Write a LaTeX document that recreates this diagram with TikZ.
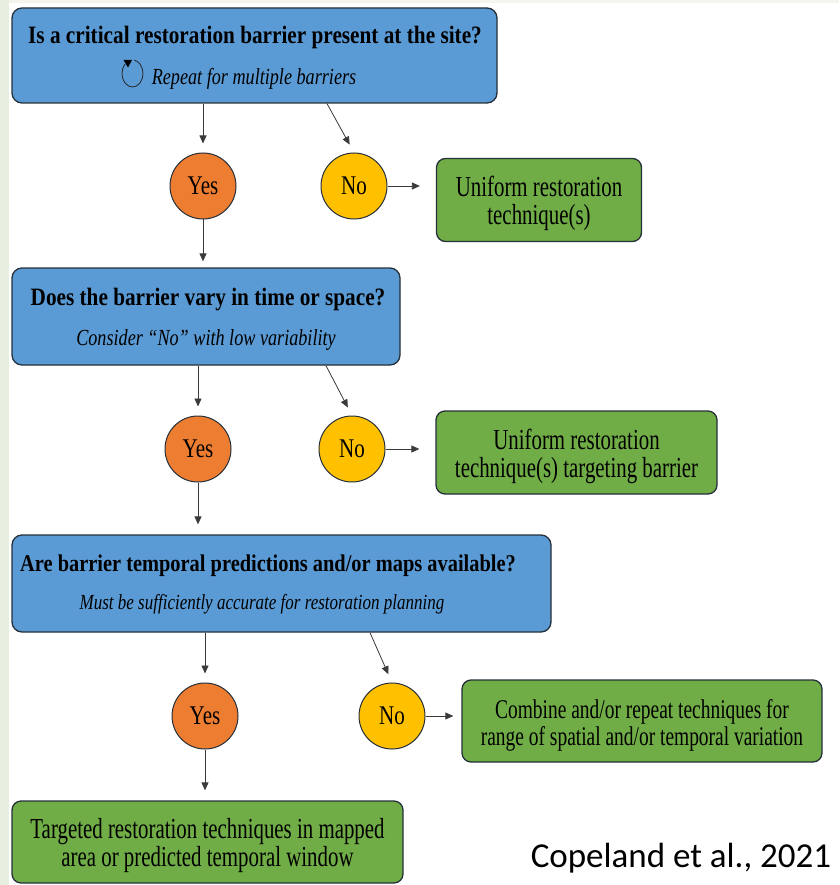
\documentclass[tikz,border=0pt]{standalone}
\usepackage{fontspec}
\setmainfont{Liberation Serif}
\newfontfamily\titlefont[FakeStretch=0.85]{Liberation Serif}
\newfontfamily\subfont[FakeStretch=0.79]{Liberation Serif}
\newfontfamily\greenfont[FakeStretch=0.72]{Liberation Serif}
\newfontfamily\circfont[FakeStretch=0.78]{Liberation Serif}
\newfontfamily\calfont{Carlito}
\usetikzlibrary{arrows.meta}
\definecolor{qblue}{HTML}{5B9BD5}
\definecolor{yorange}{HTML}{ED7D31}
\definecolor{nyellow}{HTML}{FFC000}
\definecolor{rgreen}{HTML}{70AD47}
\definecolor{edgec}{HTML}{26303A}
\definecolor{linec}{HTML}{3A3A3A}
\definecolor{stripc}{HTML}{E6EFE0}
\definecolor{topc}{HTML}{F5F5EE}
\newcommand{\gstrut}{\rule{0pt}{28pt}}
\tikzset{
  qbox/.style={draw=edgec, line width=1.3pt, fill=qblue, rounded corners=10pt, inner sep=0pt},
  rbox/.style={draw=edgec, line width=1.3pt, fill=rgreen, rounded corners=9pt, inner sep=0pt, align=center,
    font=\greenfont\fontsize{29}{28}\selectfont},
  qtitle/.style={anchor=base, inner sep=0pt, font=\titlefont\fontsize{25}{28}\selectfont\bfseries},
  qsub/.style={anchor=base, inner sep=0pt, font=\subfont\fontsize{23}{26}\selectfont\itshape},
  yesc/.style={circle, draw=edgec, line width=1pt, fill=yorange, minimum size=66pt, inner sep=0pt,
    font=\circfont\fontsize{27}{30}\selectfont},
  noc/.style={yesc, fill=nyellow},
  arr/.style={draw=linec, line width=0.8pt, -{Triangle[width=7pt,length=8pt]}},
}
\begin{document}
\begin{tikzpicture}[x=1pt,y=-1pt]
\useasboundingbox (0,0) rectangle (839,885);
\fill[white] (0,0) rectangle (839,885);
\fill[topc] (0,0) rectangle (839,3);
\fill[stripc] (0,0) rectangle (9,885);

% question 1
\node[qbox, minimum width=485pt, minimum height=95pt] (q1) at (254.5,55.5) {};
\node[qtitle] (q1t) at (255,44) {Is a critical restoration barrier present at the site?};
\node[qsub] (q1s) at (254,85) {Repeat for multiple barriers};
\draw[line width=0.8pt, black!85] (132.5,73.5) ++(135:10.5pt and 13.5pt) arc[start angle=135, end angle=440, x radius=10.5pt, y radius=13.5pt];
\fill[black] (123.5,60) -- (132,60) -- (128,67.5) -- cycle;

\node[yesc] (y1) at (203,186) {Yes};
\node[noc] (n1) at (354,186) {No};
\node[rbox, minimum width=205pt, minimum height=83pt] (g1) at (539,200) {\gstrut Uniform restoration\\technique(s)};

% question 2
\node[qbox, minimum width=388pt, minimum height=97pt] (q2) at (206,316.5) {};
\node[qtitle] (q2t) at (208,305) {Does the barrier vary in time or space?};
\node[qsub] (q2s) at (206,345) {Consider “No” with low variability};

\node[yesc] (y2) at (198,449) {Yes};
\node[noc] (n2) at (352,449) {No};
\node[rbox, minimum width=281pt, minimum height=83pt] (g2) at (576.5,452.5) {\gstrut Uniform restoration\\technique(s) targeting barrier};

% question 3
\node[qbox, minimum width=539pt, minimum height=97pt] (q3) at (281.5,583.5) {};
\node[qtitle, font=\titlefont\fontsize{24}{28}\selectfont\bfseries] (q3t) at (268,571) {Are barrier temporal predictions and/or maps available?};
\node[qsub, font=\subfont\fontsize{21.5}{26}\selectfont\itshape] (q3s) at (262,609) {Must be sufficiently accurate for restoration planning};

\node[yesc] (y3) at (205,716) {Yes};
\node[noc] (n3) at (392,716) {No};
\node[rbox, minimum width=360pt, minimum height=82pt, font=\greenfont\fontsize{27}{27}\selectfont] (g3) at (642,721) {\gstrut Combine and/or repeat techniques for\\range of spatial and/or temporal variation};

\node[rbox, minimum width=391pt, minimum height=82pt] (g4) at (207.5,842) {\gstrut Targeted restoration techniques in mapped\\area or predicted temporal window};

\node[font=\calfont\fontsize{35}{40}\selectfont, inner sep=0pt] (cite) at (681,858) {Copeland et al., 2021};

% connectors
\coordinate (d1) at (327,0);
\coordinate (d2) at (326,0);
\coordinate (d3) at (370,0);
\draw[arr, shorten >=9pt] (y1 |- q1.south) -- (y1.north);
\draw[arr, shorten >=9pt] (q1.south -| d1) -- (n1.north);
\draw[arr, shorten >=16pt] (n1.east) -- (n1.east -| g1.west);
\draw[arr, shorten >=6pt] (y1.south) -- (y1.south |- q2.north);

\draw[arr, shorten >=9pt] (y2 |- q2.south) -- (y2.north);
\draw[arr, shorten >=9pt] (q2.south -| d2) -- (n2.north);
\draw[arr, shorten >=16pt] (n2.east) -- (n2.east -| g2.west);
\draw[arr, shorten >=10pt] (y2.south) -- (y2.south |- q3.north);

\draw[arr, shorten >=9pt] (y3 |- q3.south) -- (y3.north);
\draw[arr, shorten >=9pt] (q3.south -| d3) -- (n3.north);
\draw[arr, shorten >=8pt] (n3.east) -- (n3.east -| g3.west);
\draw[arr, shorten >=10pt] (y3.south) -- (y3.south |- g4.north);
\end{tikzpicture}
\end{document}
